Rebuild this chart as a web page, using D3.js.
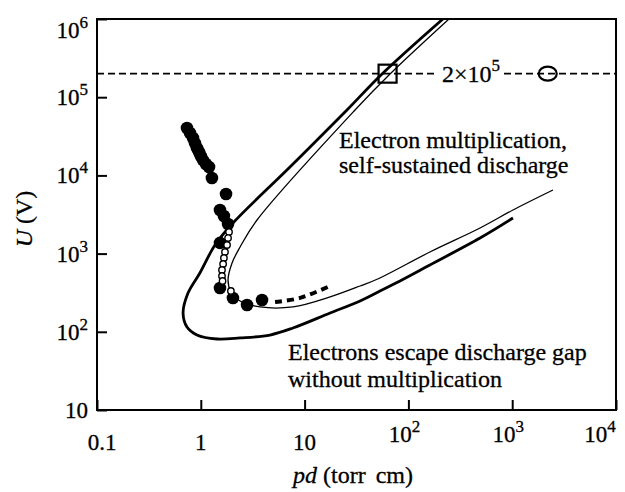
<!DOCTYPE html>
<html>
<head>
<meta charset="utf-8">
<script src="https://cdn.jsdelivr.net/npm/d3@7"></script>
<style>
  body { margin: 0; background: #fff; }
</style>
</head>
<body>
<svg id="chart" width="625" height="492"></svg>
<script>
// Breakdown voltage U versus pd: two computed boundaries (thick and thin),
// a measured trend (bold dashes) and experimental points.
const thickPd = [215, 55.7, 25.6, 7.23, 2.04, 1.37, 0.98, 0.753, 0.675, 0.736, 0.918, 1.43, 2.39, 4.64, 7.73, 17.6, 34.2, 53.2, 83, 161, 490, 1018];
const thickU  = [1e6, 1.98e5, 6.86e4, 12800, 2460, 1288, 565, 313, 174, 115, 91, 80.9, 83.4, 91, 112, 174, 248, 333, 447, 715, 1580, 2850];

const thinPd = [246, 66.5, 30.6, 3.48, 2.39, 2.0, 1.83, 1.95, 2.39, 3.72, 7.73, 17.6, 34.2, 53.2, 161, 490, 1018, 2470];
const thinU  = [1e6, 1.98e5, 6.86e4, 2690, 1214, 759, 459, 323, 248, 208, 208, 279, 385, 488, 1048, 2125, 3610, 6500];

const trendPd = [5.19, 9.04, 18.4];
const trendU  = [240, 271, 397];

const filledPd = [0.736, 0.787, 0.841, 0.879, 0.918, 0.961, 1.0, 1.05, 1.12, 1.20, 1.28, 1.75, 1.53, 1.67, 1.83, 1.53, 1.53, 2.04, 2.79, 3.89];
const filledU  = [40400, 34800, 30100, 25900, 22400, 19900, 17700, 15700, 14000, 12800, 9270, 5780, 3610, 3030, 2390, 1370, 363, 271, 220, 255];

const openPd = [1.87, 1.83, 1.79, 1.71, 1.67, 1.64, 1.60, 1.60, 1.62, 1.95];
const openU  = [1890, 1580, 1288, 1048, 879, 737, 617, 517, 447, 333];

// Reference voltage level and the two markers placed on it
const levelU = 2e5;
const squarePd = 63;
const circlePd = 2200;

const xTickValues = [0.1, 1, 10, 100, 1000, 10000];
const xTickBase   = ["0.1", "1", "10", "10", "10", "10"];
const xTickExp    = ["", "", "", "2", "3", "4"];

const yTickValues = [10, 100, 1000, 10000, 100000, 1000000];
const yTickBase   = ["10", "10", "10", "10", "10", "10"];
const yTickExp    = ["", "2", "3", "4", "5", "6"];

// ---- layout ----
const FONT = "\"Liberation Serif\", \"Times New Roman\", serif";
const svg = d3.select("#chart");
const L = 97, R = 616, T = 19, B = 410;

const x = d3.scaleLog().domain([0.1, 1e4]).range([L, R]);
const y = d3.scaleLog().domain([10, 1e6]).range([B, T]);

function addText(sel) {
  return sel.append("text").style("font-family", FONT)
    .attr("fill", "#000").attr("stroke", "#000").attr("stroke-width", 0.3);
}

svg.append("defs").append("clipPath").attr("id", "plotClip")
  .append("rect").attr("x", L).attr("y", T).attr("width", R - L).attr("height", B - T);

const plot = svg.append("g").attr("clip-path", "url(#plotClip)");

// reference level, dashed
plot.append("line")
  .attr("x1", L).attr("x2", R)
  .attr("y1", y(levelU)).attr("y2", y(levelU))
  .attr("stroke", "#000").attr("stroke-width", 1.7)
  .attr("stroke-dasharray", "7,4");

const line = d3.line().x(d => x(d[0])).y(d => y(d[1])).curve(d3.curveCatmullRom.alpha(0.5));

plot.append("path")
  .attr("d", line(d3.zip(thinPd, thinU)))
  .attr("fill", "none").attr("stroke", "#000").attr("stroke-width", 1.3);

plot.append("path")
  .attr("d", line(d3.zip(thickPd, thickU)))
  .attr("fill", "none").attr("stroke", "#000").attr("stroke-width", 2.8);

plot.append("path")
  .attr("d", line(d3.zip(trendPd, trendU)))
  .attr("fill", "none").attr("stroke", "#000").attr("stroke-width", 4)
  .attr("stroke-dasharray", "7,5");

// experimental points
plot.selectAll("circle.filled").data(d3.zip(filledPd, filledU)).join("circle")
  .attr("class", "filled")
  .attr("cx", d => x(d[0])).attr("cy", d => y(d[1])).attr("r", 6.3)
  .attr("fill", "#000");

plot.selectAll("circle.open").data(d3.zip(openPd, openU)).join("circle")
  .attr("class", "open")
  .attr("cx", d => x(d[0])).attr("cy", d => y(d[1])).attr("r", 3.2)
  .attr("fill", "#fff").attr("stroke", "#000").attr("stroke-width", 1.4);

// markers on the reference level
const sq = 18;
plot.append("rect")
  .attr("x", x(squarePd) - sq / 2).attr("y", y(levelU) - sq / 2)
  .attr("width", sq).attr("height", sq)
  .attr("fill", "none").attr("stroke", "#000").attr("stroke-width", 2.2);

plot.append("ellipse")
  .attr("cx", x(circlePd)).attr("cy", y(levelU))
  .attr("rx", 9).attr("ry", 7)
  .attr("fill", "none").attr("stroke", "#000").attr("stroke-width", 2.2);

// label of the reference level, on a white patch that breaks the dashes
plot.append("rect")
  .attr("x", 434).attr("y", y(levelU) - 9).attr("width", 68).attr("height", 18)
  .attr("fill", "#fff");
const lvl = addText(svg).attr("x", 442).attr("y", y(levelU) + 8).style("font-size", "24px");
lvl.append("tspan").text("2\u00d710");
lvl.append("tspan").attr("dy", -11).style("font-size", "17px").text("5");

// frame
svg.append("rect")
  .attr("x", L).attr("y", T).attr("width", R - L).attr("height", B - T)
  .attr("fill", "none").attr("stroke", "#000").attr("stroke-width", 2);

// inward ticks on the left and bottom axes
const yAxis = svg.append("g").attr("transform", `translate(${L},0)`)
  .call(d3.axisLeft(y).tickValues(yTickValues).tickSize(-10).tickFormat(""));
const xAxis = svg.append("g").attr("transform", `translate(0,${B})`)
  .call(d3.axisBottom(x).tickValues(xTickValues).tickSize(-10).tickFormat(""));
[yAxis, xAxis].forEach(g => {
  g.select(".domain").remove();
  g.selectAll(".tick line").attr("stroke", "#000").attr("stroke-width", 2);
});

// y tick labels
yTickValues.forEach((v, i) => {
  const yy = y(v) + 8 + (i === yTickValues.length - 1 ? 11 : 0);
  const t = addText(svg).attr("x", 88).attr("y", yy)
    .attr("text-anchor", "end").style("font-size", "23px");
  t.append("tspan").text(yTickBase[i]);
  if (yTickExp[i]) t.append("tspan").attr("dy", -10).style("font-size", "17px").text(yTickExp[i]);
});

// x tick labels
xTickValues.forEach((v, i) => {
  const hasExp = !!xTickExp[i];
  let nudge = 0;
  if (i === 0) nudge = 5;
  else if (i === xTickValues.length - 1) nudge = -16;
  else if (hasExp) nudge = -4;
  const t = addText(svg).attr("x", x(v) + nudge).attr("y", hasExp ? 442 : 450)
    .attr("text-anchor", "middle").style("font-size", "23px");
  t.append("tspan").text(xTickBase[i]);
  if (hasExp) t.append("tspan").attr("dy", -10).style("font-size", "17px").text(xTickExp[i]);
});

// axis titles
const xt = addText(svg).attr("x", 293).attr("y", 483).style("font-size", "24px");
xt.append("tspan").style("font-style", "italic").text("pd");
xt.append("tspan").text(" (torr");
xt.append("tspan").attr("dx", 10).text("cm)");

const yt = addText(svg)
  .attr("transform", "translate(32,219) rotate(-90)")
  .attr("text-anchor", "middle").style("font-size", "24px");
yt.append("tspan").style("font-style", "italic").text("U");
yt.append("tspan").text(" (V)");

// region annotations
const ann = [
  { x: 339, y: 148, s: "Electron multiplication," },
  { x: 339, y: 173, s: "self-sustained discharge" },
  { x: 288, y: 360, s: "Electrons escape discharge gap" },
  { x: 288, y: 387, s: "without multiplication" }
];
ann.forEach(a => addText(svg).attr("x", a.x).attr("y", a.y).style("font-size", "24px").text(a.s));
</script>
</body>
</html>
